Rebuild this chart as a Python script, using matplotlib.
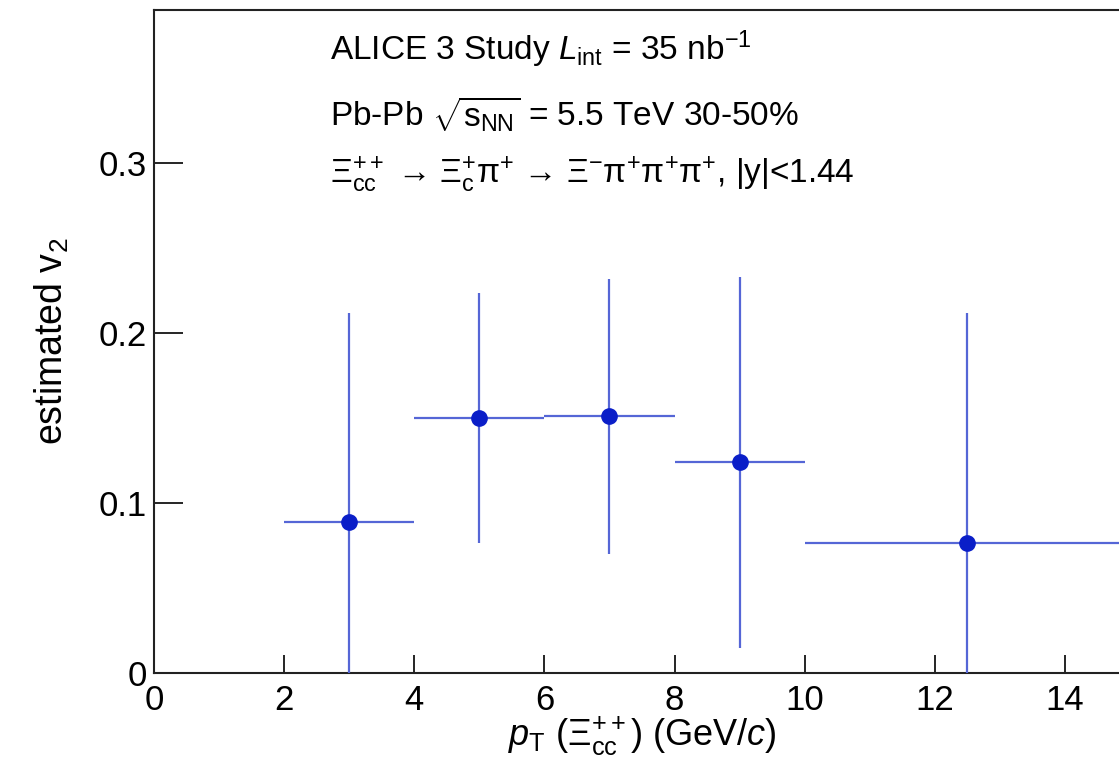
# estimated v2 vs pT for Xi_cc++ (ALICE 3 study)
import matplotlib
matplotlib.use("Agg")
import matplotlib.pyplot as plt

plt.rcParams['font.family'] = ['Liberation Sans', 'DejaVu Sans']
plt.rcParams['mathtext.fontset'] = 'custom'
plt.rcParams['mathtext.rm'] = 'Liberation Sans'
plt.rcParams['mathtext.it'] = 'Liberation Sans:italic'
plt.rcParams['mathtext.bf'] = 'Liberation Sans:bold'

pt = [3, 5, 7, 9, 12.5]
pt_lo = [2, 4, 6, 8, 10]
pt_hi = [4, 6, 8, 10, 15]
v2 = [0.089, 0.150, 0.151, 0.124, 0.0765]
v2_err = [0.123, 0.0735, 0.081, 0.109, 0.135]

xerr = [[p - lo for p, lo in zip(pt, pt_lo)], [hi - p for p, hi in zip(pt, pt_hi)]]

fig = plt.figure(figsize=(11.19, 7.66), dpi=100)
ax = fig.add_axes([154 / 1119, 93 / 766, 976 / 1119, 663 / 766])

ax.errorbar(pt, v2, xerr=xerr, yerr=v2_err, fmt='o', color='#0a1ec8', ms=11,
            ecolor='#5566d6', elinewidth=1.6, capsize=0, zorder=3)

ax.set_xlim(0, 15)
ax.set_ylim(0, 0.39)
ax.set_xticks([0, 2, 4, 6, 8, 10, 12, 14])
ax.set_xticklabels(['0', '2', '4', '6', '8', '10', '12', '14'])
ax.set_yticks([0, 0.1, 0.2, 0.3])
ax.set_yticklabels(['0', '0.1', '0.2', '0.3'])

ax.tick_params(axis='x', direction='in', length=13, width=1.2, labelsize=25, pad=8)
ax.tick_params(axis='y', direction='in', length=21, width=1.2, labelsize=25, pad=5)
for s in ax.spines.values():
    s.set_linewidth(1.5)
    s.set_color('#222222')

ax.set_xlabel(r'$p_{\mathrm{T}}$ ($\Xi_{\mathrm{cc}}^{++}$) (GeV/$c$)', fontsize=26, labelpad=-2)
ax.set_ylabel(r'estimated v$_{2}$', fontsize=27, labelpad=20)

ax.text(0.180, 0.925, r'ALICE 3 Study $L_{\mathrm{int}}$ = 35 nb$^{\mathrm{-1}}$', transform=ax.transAxes,
        fontsize=24)
ax.text(0.180, 0.825, r'Pb-Pb $\sqrt{\mathrm{s}_{\mathrm{NN}}}$ = 5.5 TeV 30-50%', transform=ax.transAxes,
        fontsize=24)
ax.text(0.180, 0.738, r'$\Xi_{\mathrm{cc}}^{++}$ → $\Xi_{\mathrm{c}}^{+}$π$^{+}$ → '
        r'$\Xi^{\mathrm{-}}$π$^{+}$π$^{+}$π$^{+}$, |y|<1.44', transform=ax.transAxes, fontsize=24)

fig.savefig('out.png', dpi=100)
